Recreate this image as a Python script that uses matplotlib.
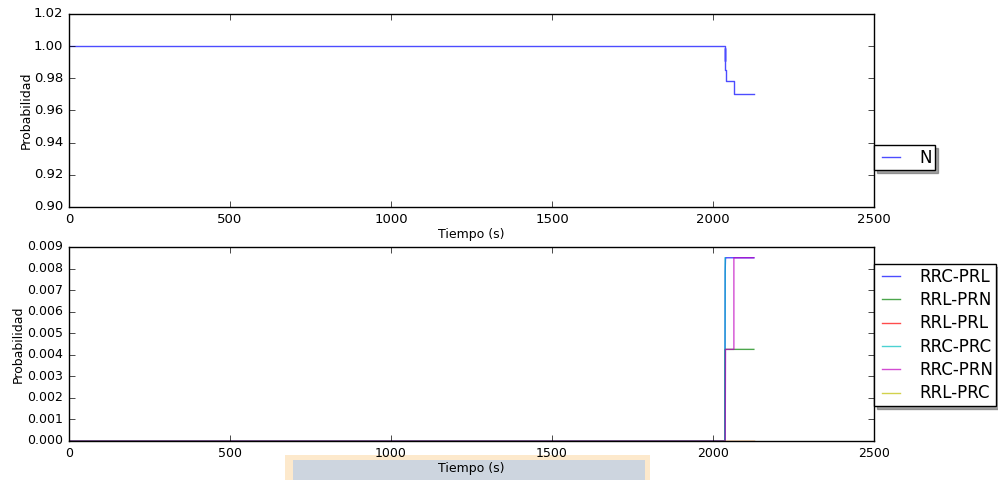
import matplotlib
matplotlib.use('Agg')
import matplotlib.pyplot as plt
from matplotlib.patches import Rectangle

plt.style.use('classic')

# top panel: probability of N
t_n = [0, 2037, 2037, 2037, 2037, 2038, 2038, 2039, 2039, 2065, 2065, 2127]
p_n = [1.0, 1.0, 0.9910, 0.9990, 0.9910, 0.9910, 0.9850, 0.9850, 0.9785, 0.9785, 0.9700, 0.9700]

# bottom panel: other states
series = {
    'RRC-PRL': ([0, 2037, 2038, 2039, 2040, 2127], [0, 0, 0.00785, 0.0085, 0.0085, 0.0085]),
    'RRL-PRN': ([0, 2037, 2038, 2127], [0, 0, 0.00425, 0.00425]),
    'RRL-PRL': ([0, 2127], [0, 0]),
    'RRC-PRC': ([0, 2037, 2038], [0, 0, 0.0085]),
    'RRC-PRN': ([0, 2038, 2039, 2065, 2065, 2127], [0, 0, 0.00425, 0.00425, 0.0085, 0.0085]),
    'RRL-PRC': ([0, 2127], [0, 0]),
}
colors = ['b', 'g', 'r', 'c', 'm', 'y']

leg_kw = dict(loc='upper left', borderaxespad=0, shadow=True, fontsize=12,
              handlelength=1.65, handletextpad=0.85, labelspacing=0.32, borderpad=0.2)

fig = plt.figure(figsize=(9.98, 4.8), dpi=100, facecolor='white')
ax1 = fig.add_axes([0.0691, 0.5688, 0.8066, 0.4021])
ax2 = fig.add_axes([0.0691, 0.08125, 0.8066, 0.4042])

ax1.plot(t_n, p_n, color='b', alpha=0.7, label='N')
ax1.set_xlim(0, 2500)
ax1.set_ylim(0.90, 1.02)
ax1.set_xlabel('Tiempo (s)', fontsize=9, labelpad=2)
ax1.set_ylabel('Probabilidad', fontsize=9, labelpad=1)
ax1.tick_params(labelsize=9.5)
ax1.legend(bbox_to_anchor=(1.0, 0.32), **leg_kw)

for (name, (t, p)), c in zip(series.items(), colors):
    ax2.plot(t, p, color=c, alpha=0.7, label=name)
ax2.set_xlim(0, 2500)
ax2.set_ylim(0, 0.009)
ax2.set_yticks([i * 0.001 for i in range(10)])
ax2.set_xlabel('Tiempo (s)', fontsize=9, labelpad=1.5)
ax2.set_ylabel('Probabilidad', fontsize=9, labelpad=2)
ax2.tick_params(labelsize=9)
ax2.legend(bbox_to_anchor=(1.0, 0.91), **leg_kw)

# highlight box behind the lower x label
fig.patches.append(Rectangle((285 / 998, 0), 365 / 998, 25 / 480, transform=fig.transFigure,
                             facecolor='#fde9cc', edgecolor='none', zorder=-2))
fig.patches.append(Rectangle((293 / 998, 0), 352 / 998, 20 / 480, transform=fig.transFigure,
                             facecolor='#cdd5df', edgecolor='none', zorder=-1))

fig.savefig('out.png', dpi=100, facecolor='white')
